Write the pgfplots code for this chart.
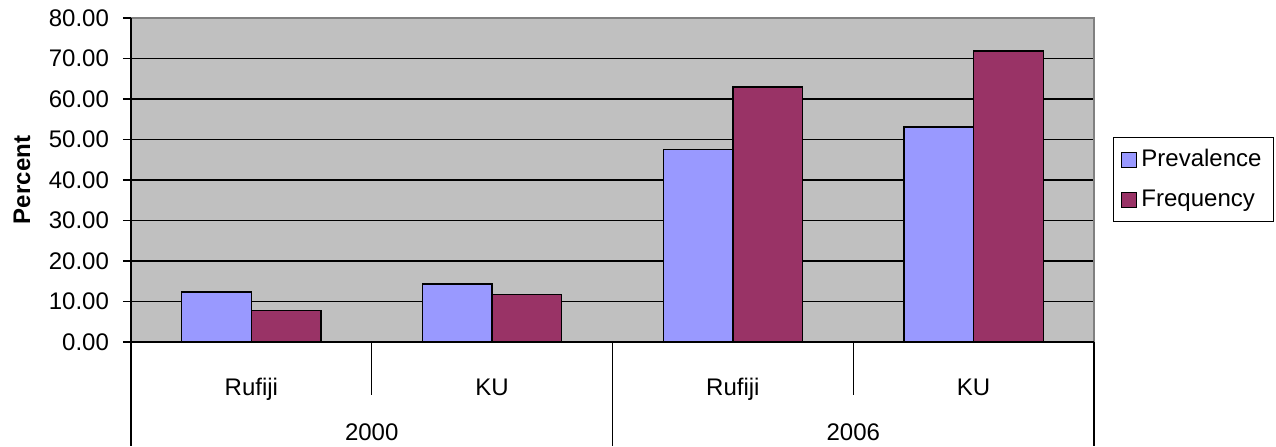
\documentclass[border=0pt]{standalone}
\usepackage{fontspec}
\setmainfont{Liberation Sans}
\usepackage{pgfplots}
\pgfplotsset{compat=1.18}
\definecolor{prev}{HTML}{9999FF}
\definecolor{freq}{HTML}{993366}
\definecolor{plotbg}{HTML}{C0C0C0}
\definecolor{frame}{HTML}{808080}
\begin{document}
\begin{tikzpicture}[font=\fontsize{12}{14}\selectfont]
\begin{axis}[
  name=ax,
  scale only axis,
  width=481.5pt, height=162pt,
  xmin=-0.5, xmax=3.5, ymin=0, ymax=80,
  clip=false,
  axis line style={draw=none},
  axis background/.style={fill=plotbg},
  ybar=0pt, bar width=0.289,
  xtick={0,1,2,3},
  xticklabels={Rufiji,KU,Rufiji,KU},
  xtick style={draw=none},
  xticklabel style={anchor=base, yshift=-22.5pt},
  ytick={0,10,...,80},
  ytick pos=left, tick align=outside, major tick length=4pt,
  ytick style={black, line width=0.6pt},
  /pgf/number format/assume math mode=true,
  yticklabel style={/pgf/number format/fixed, /pgf/number format/fixed zerofill,
    /pgf/number format/precision=2, xshift=-3.5pt},
  ymajorgrids, grid style={black, line width=0.6pt},
  ylabel={\bfseries Percent},
  ylabel style={at={(axis description cs:-0.1132,0.5)}, anchor=center},
  legend style={at={(1.0197,0.633)}, anchor=north west, draw=black, line width=0.5pt,
    font=\fontsize{12}{14}\selectfont, row sep=6pt, inner xsep=4pt, inner ysep=4pt},
  legend cell align=left,
  legend image code/.code={\draw[#1, line width=0.5pt] (1pt,-3.75pt) rectangle (8.5pt,3.75pt);},
]
\addplot[fill=prev, draw=black, line width=0.7pt] coordinates {(0,12.3) (1,14.3) (2,47.6) (3,53.1)};
\addplot[fill=freq, draw=black, line width=0.7pt] coordinates {(0,7.85) (1,11.8) (2,63.0) (3,71.9)};
\legend{Prevalence,Frequency}
\draw[frame, line width=0.8pt] (rel axis cs:0,1) -- (rel axis cs:1,1) -- (rel axis cs:1,0);
\draw[black, line width=0.7pt] (rel axis cs:0,0) -- (rel axis cs:1,0);
\draw[black, line width=0.7pt] (rel axis cs:0,1) -- ([yshift=-52pt]rel axis cs:0,0);
\draw[black, line width=0.7pt] (axis cs:1.5,0) -- ([yshift=-52pt]axis cs:1.5,0);
\draw[black, line width=0.7pt] (axis cs:3.5,0) -- ([yshift=-52pt]axis cs:3.5,0);
\draw[black, line width=0.7pt] (axis cs:0.5,0) -- ([yshift=-26.5pt]axis cs:0.5,0);
\draw[black, line width=0.7pt] (axis cs:2.5,0) -- ([yshift=-26.5pt]axis cs:2.5,0);
\node[anchor=base] at ([yshift=-49pt]axis cs:0.5,0) {2000};
\node[anchor=base] at ([yshift=-49pt]axis cs:2.5,0) {2006};
\end{axis}
\pgfresetboundingbox
\path ([xshift=-65.5pt, yshift=9pt]ax.north west) rectangle ([xshift=91pt, yshift=-52pt]ax.south east);
\end{tikzpicture}
\end{document}
